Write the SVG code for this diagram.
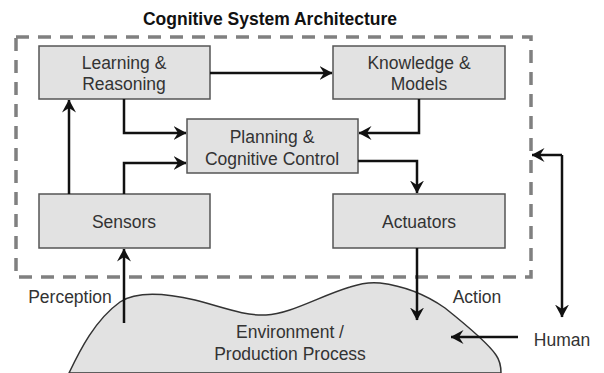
<svg xmlns="http://www.w3.org/2000/svg" width="604" height="373" viewBox="0 0 604 373">
<defs>
<marker id="ah" viewBox="0 0 13 14" refX="12.5" refY="7" markerWidth="13" markerHeight="14" markerUnits="userSpaceOnUse" orient="auto">
<path d="M0,0 L13,7 L0,14 L4.5,7 z" fill="#111"/>
</marker>
<style>
.box{fill:#e2e2e2;stroke:#555;stroke-width:1.5}
.t{font-family:"Liberation Sans",Arial,sans-serif;font-size:17.5px;fill:#333;text-anchor:middle}
.title{font-family:"Liberation Sans",Arial,sans-serif;font-size:17.5px;font-weight:bold;fill:#111;text-anchor:middle}
.c{fill:none;stroke:#111;stroke-width:2.5}
</style>
</defs>
<rect width="604" height="373" fill="#fff"/>
<text class="title" x="270" y="25">Cognitive System Architecture</text>
<rect x="16" y="37" width="515" height="240" fill="none" stroke="#808080" stroke-width="3.5" stroke-dasharray="13 9"/>
<g id="environment">
<path d="M69,373 C80,350 95,320 120,302 C135,292 160,292 195,300 C225,308 245,316 266,315 C290,314 320,296 350,287 C362,283 372,282 380,283 C405,286 425,294 445,308 C465,324 488,343 496,355 C501,362 501,368 501,373 Z" fill="#e2e2e2" stroke="#333" stroke-width="1.5"/>
<text class="t" x="290" y="338">Environment /</text>
<text class="t" x="290" y="360">Production Process</text>
</g>
<g id="learning"><rect class="box" x="39" y="46" width="171" height="53"/><text class="t" x="124" y="69">Learning &amp;</text><text class="t" x="124" y="90">Reasoning</text></g>
<g id="knowledge"><rect class="box" x="333" y="46" width="172" height="53"/><text class="t" x="419" y="69">Knowledge &amp;</text><text class="t" x="419" y="90">Models</text></g>
<g id="planning"><rect class="box" x="187" y="119" width="171" height="54"/><text class="t" x="272" y="143">Planning &amp;</text><text class="t" x="272" y="165">Cognitive Control</text></g>
<g id="sensors"><rect class="box" x="39" y="194" width="171" height="54"/><text class="t" x="124" y="228">Sensors</text></g>
<g id="actuators"><rect class="box" x="333" y="194" width="172" height="54"/><text class="t" x="419" y="228">Actuators</text></g>
<g id="labels">
<text class="t" x="70" y="303">Perception</text>
<text class="t" x="477" y="303">Action</text>
<text class="t" x="562" y="346">Human</text>
</g>
<g id="connectors">
<path class="c" d="M210,73 H332" marker-end="url(#ah)"/>
<path class="c" d="M124,99 V133 H186" marker-end="url(#ah)"/>
<path class="c" d="M419,99 V133 H359" marker-end="url(#ah)"/>
<path class="c" d="M69,194 V100" marker-end="url(#ah)"/>
<path class="c" d="M124,194 V163 H186" marker-end="url(#ah)"/>
<path class="c" d="M358,161 H417 V193" marker-end="url(#ah)"/>
<path class="c" d="M124,323 V249" marker-end="url(#ah)"/>
<path class="c" d="M417,248 V320" marker-end="url(#ah)"/>
<path class="c" d="M562,155 V317" marker-end="url(#ah)"/>
<path class="c" d="M562,155 H532" marker-end="url(#ah)"/>
<path class="c" d="M518,337 H451" marker-end="url(#ah)"/>
</g>
</svg>
